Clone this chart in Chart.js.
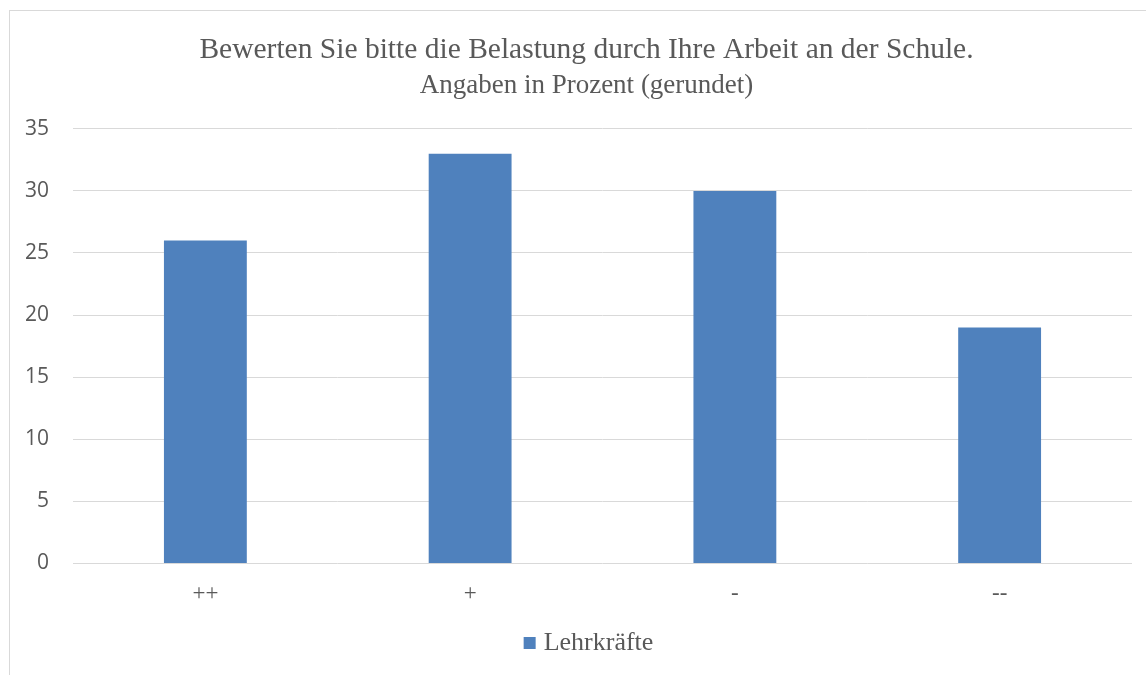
<!DOCTYPE html>
<html><head><meta charset="utf-8">
<script src="https://cdn.jsdelivr.net/npm/chart.js@4/dist/chart.umd.min.js"></script>
<style>
html,body{margin:0;padding:0;background:#fff;overflow:hidden;width:1146px;height:675px;}
#frame{position:absolute;left:9px;top:10px;width:1160px;height:700px;border:1px solid #d9d9d9;box-sizing:border-box;}
#wrap{position:absolute;left:10px;top:11px;width:1153px;height:664px;}
</style></head><body>
<div id="frame"></div>
<div id="wrap"><canvas id="c"></canvas></div>
<script>
const titleText = "Bewerten Sie bitte die Belastung durch Ihre Arbeit an der Schule.";
const subtitleText = "Angaben in Prozent (gerundet)";
const categories = ["++", "+", "-", "--"];
const seriesName = "Lehrkräfte";
const values = [26, 33, 30, 19];
const yTicks = [0, 5, 10, 15, 20, 25, 30, 35];

const serif = "'Liberation Serif','Times New Roman',serif";
const sans = "'Open Sans','Noto Sans',sans-serif";
const grey = "#595959";

const bottomLegend = {
  id: 'bottomLegend',
  afterDraw(chart) {
    const ctx = chart.ctx;
    const ds = chart.data.datasets[0];
    const fontSize = 26, box = 12, gap = 8;
    ctx.save();
    ctx.font = fontSize + "px " + serif;
    const tw = ctx.measureText(ds.label).width;
    const total = box + gap + tw;
    const cx = chart.width / 2 + 2;
    const cy = 632;
    const x0 = cx - total / 2;
    ctx.fillStyle = ds.backgroundColor;
    ctx.fillRect(x0, cy - box / 2, box, box);
    ctx.fillStyle = grey;
    ctx.textBaseline = 'middle';
    ctx.textAlign = 'left';
    ctx.fillText(ds.label, x0 + box + gap, cy);
    ctx.restore();
  }
};

new Chart(document.getElementById('c'), {
  type: 'bar',
  data: {
    labels: categories,
    datasets: [{
      label: seriesName,
      data: values,
      backgroundColor: '#4F81BD',
      borderWidth: 0,
      barPercentage: 0.313,
      categoryPercentage: 1.0
    }]
  },
  plugins: [bottomLegend],
  options: {
    responsive: true,
    maintainAspectRatio: false,
    animation: false,
    layout: { padding: { left: 0, right: 0, top: 10, bottom: 50 } },
    plugins: {
      title: { display: true, text: titleText, color: grey,
        font: { family: serif, size: 29.5, weight: 'normal' }, padding: { top: 12, bottom: 1 } },
      subtitle: { display: true, text: subtitleText, color: grey,
        font: { family: serif, size: 27, weight: 'normal' }, padding: { top: 0, bottom: 27 } },
      legend: { display: false },
      tooltip: { enabled: false }
    },
    scales: {
      x: {
        grid: { display: false, drawTicks: false },
        border: { display: false },
        ticks: { color: grey, font: { family: serif, size: 23 }, padding: 17 }
      },
      y: {
        min: 0, max: 35,
        afterBuildTicks: (s) => { s.ticks = yTicks.map(v => ({ value: v })); },
        afterFit: (s) => { s.width = 63; },
        grid: { color: '#d9d9d9', lineWidth: 1, drawTicks: false },
        border: { display: false },
        ticks: { color: grey, font: { family: sans, size: 21 }, padding: 24 }
      },
      yRight: {
        position: 'right',
        min: 0, max: 35,
        afterFit: (s) => { s.width = 31; },
        grid: { display: false, drawTicks: false },
        border: { display: false },
        ticks: { display: false }
      }
    }
  }
});
</script>
</body></html>
